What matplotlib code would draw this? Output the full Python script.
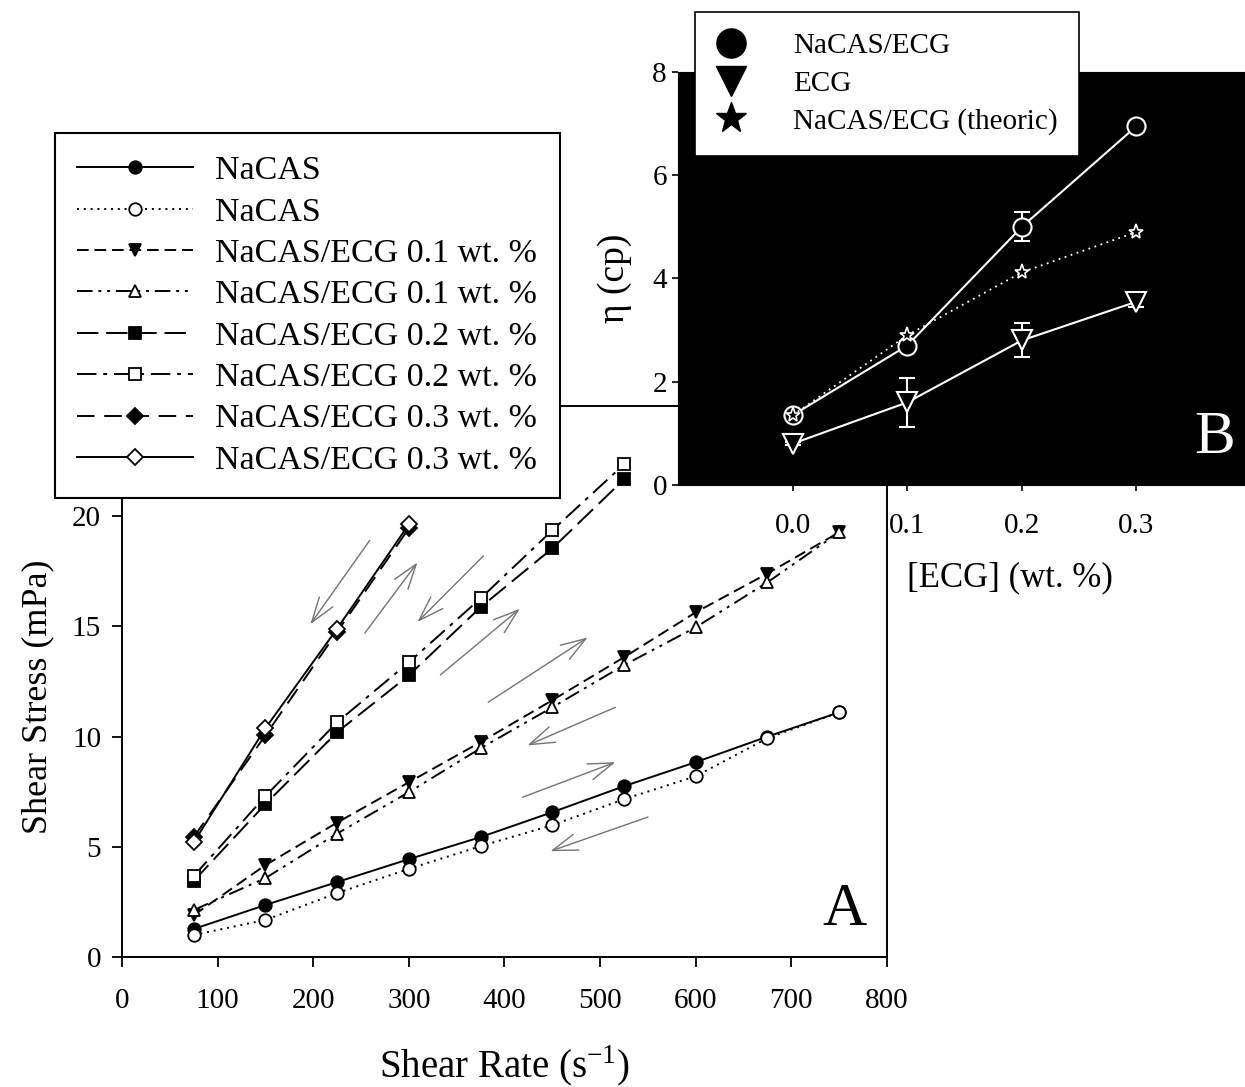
import numpy as np
import matplotlib
matplotlib.use("Agg")
import matplotlib.pyplot as plt
from matplotlib.lines import Line2D

plt.rcParams['font.family'] = ['Liberation Serif', 'DejaVu Serif']
plt.rcParams['mathtext.fontset'] = 'custom'
plt.rcParams['mathtext.rm'] = 'Liberation Serif'

# ---------- data (panel A) ----------
rate = [75, 150, 225, 300, 375, 450, 525, 600, 675, 750]
nacas_up = [1.27, 2.36, 3.4, 4.44, 5.44, 6.57, 7.75, 8.84, 10.0, 11.1]
nacas_down = [1.0, 1.68, 2.9, 4.0, 5.03, 5.98, 7.16, 8.2, 9.93, 11.1]
ecg01_up = [1.9, 4.17, 6.1, 7.93, 9.75, 11.65, 13.6, 15.64, 17.4, 19.27]
ecg01_down = [2.13, 3.58, 5.6, 7.48, 9.47, 11.33, 13.24, 14.96, 17.0, 19.27]
rate02 = [75, 150, 225, 300, 375, 450, 525]
ecg02_up = [3.45, 6.94, 10.2, 12.78, 15.87, 18.54, 21.67]
ecg02_down = [3.67, 7.3, 10.65, 13.37, 16.27, 19.36, 22.35]
rate03 = [75, 150, 225, 300]
ecg03_up = [5.44, 10.06, 14.75, 19.45]
ecg03_down = [5.2, 10.38, 14.9, 19.63]

labels_a = ["NaCAS", "NaCAS", "NaCAS/ECG 0.1 wt. %", "NaCAS/ECG 0.1 wt. %",
            "NaCAS/ECG 0.2 wt. %", "NaCAS/ECG 0.2 wt. %",
            "NaCAS/ECG 0.3 wt. %", "NaCAS/ECG 0.3 wt. %"]

# direction arrows (start -> end, data units)
arrows = [((259, 18.9), (197, 15.1)), ((254, 14.7), (309, 17.9)),
          ((378, 18.2), (309, 15.2)), ((333, 12.8), (416, 15.8)),
          ((383, 11.56), (487, 14.5)), ((516, 11.33), (424, 9.6)),
          ((419, 7.25), (516, 8.84)), ((550, 6.35), (448, 4.8))]

# ---------- data (panel B) ----------
ecg_conc = [0.0, 0.1, 0.2, 0.3]
visc_mix = [1.35, 2.7, 5.0, 6.95]
visc_mix_err = [0.05, 0.08, 0.28, 0.05]
visc_ecg = [0.8, 1.6, 2.8, 3.55]
visc_ecg_err = [0.03, 0.47, 0.33, 0.1]
visc_theor = [1.35, 2.9, 4.12, 4.9]

W, H = 1245, 1087
fig = plt.figure(figsize=(W / 100, H / 100), dpi=100)

# ---------- panel A ----------
ax = fig.add_axes([122 / W, 1 - 957 / H, 765 / W, 551 / H])
lw = 1.4
ms = 9
series = [
    (rate, nacas_up, '-', 'o', 'black'),
    (rate, nacas_down, (0, (1, 2.5)), 'o', 'white'),
    (rate, ecg01_up, (0, (6, 3)), 'v', 'black'),
    (rate, ecg01_down, (0, (8, 3, 1.5, 3, 1.5, 3)), '^', 'white'),
    (rate02, ecg02_up, (0, (11, 4)), 's', 'black'),
    (rate02, ecg02_down, (0, (10, 3.5, 2, 3.5)), 's', 'white'),
    (rate03, ecg03_up, (0, (9, 5)), 'D', 'black'),
    (rate03, ecg03_down, '-', 'D', 'white'),
]
for (xs, ys, ls, mk, fc), lab in zip(series, labels_a):
    ax.plot(xs, ys, linestyle=ls, color='black', lw=lw, marker=mk,
            markersize=ms if mk != 'D' else 8, markerfacecolor=fc,
            markeredgecolor='black', markeredgewidth=1.3, label=lab)

for start, end in arrows:
    ax.annotate('', xy=end, xytext=start,
                arrowprops=dict(arrowstyle='->,head_length=0.9,head_width=0.3',
                                color='0.45', lw=1.0, mutation_scale=20,
                                shrinkA=0, shrinkB=0))

ax.set_xlim(0, 800)
ax.set_ylim(0, 25)
ax.set_xticks(np.arange(0, 801, 100))
ax.set_yticks(np.arange(0, 21, 5))
ax.tick_params(direction='out', length=7, width=1.3, labelsize=21)
ax.tick_params(axis='x', pad=15)
ax.tick_params(axis='y', pad=8)
for s in ax.spines.values():
    s.set_linewidth(1.4)
ax.set_xlabel(r"Shear Rate (s$^{\mathregular{-1}}$)", fontsize=28)
ax.xaxis.set_label_coords(0.5, -0.158)
ax.set_ylabel("Shear Stress (mPa)", fontsize=26)
ax.yaxis.set_label_coords(-0.088, 0.472)
ax.text(0.945, 0.085, "A", transform=ax.transAxes, fontsize=44,
        ha='center', va='center')

leg = ax.legend(loc='upper left', bbox_to_anchor=(55 / W, 1 - 133 / H),
                bbox_transform=fig.transFigure, fontsize=24.5, numpoints=1,
                handlelength=3.4, handletextpad=0.65, labelspacing=0.31,
                borderpad=0.66, borderaxespad=0, fancybox=False,
                framealpha=1, edgecolor='black')
leg.get_frame().set_linewidth(1.5)

# ---------- panel B (inset) ----------
axb = fig.add_axes([678 / W, 1 - 485 / H, 573 / W, 413 / H])
axb.set_facecolor('black')
axb.errorbar(ecg_conc, visc_mix, yerr=visc_mix_err, color='white', lw=1.5,
             marker='o', markersize=13, markerfacecolor='black',
             markeredgecolor='white', markeredgewidth=1.5, capsize=6,
             elinewidth=1.5, zorder=3)
axb.errorbar(ecg_conc, visc_ecg, yerr=visc_ecg_err, color='white', lw=1.5,
             marker='v', markersize=14, markerfacecolor='black',
             markeredgecolor='white', markeredgewidth=1.5, capsize=6,
             elinewidth=1.5, zorder=3)
axb.plot(ecg_conc, visc_theor, linestyle=(0, (1, 2.5)), color='white', lw=1.3,
         marker='*', markersize=11, markerfacecolor='black',
         markeredgecolor='white', markeredgewidth=1.2, zorder=4)
axb.set_xlim(-0.1, 0.4)
axb.set_ylim(0, 8)
axb.set_xticks(ecg_conc)
axb.set_xticklabels(["0.0", "0.1", "0.2", "0.3"])
axb.set_yticks([0, 2, 4, 6, 8])
axb.tick_params(direction='out', length=4, width=1.2, labelsize=21)
axb.tick_params(axis='x', pad=16)
axb.tick_params(axis='y', pad=4)
axb.set_xlabel("[ECG] (wt. %)", fontsize=25)
axb.xaxis.set_label_coords(0.579, -0.185)
axb.set_ylabel("η (cp)", fontsize=27)
axb.yaxis.set_label_coords(-0.08, 0.5)
axb.text(0.937, 0.114, "B", transform=axb.transAxes, fontsize=44,
         color='white', ha='center', va='center')

handles_b = [Line2D([], [], ls='none', marker='o', color='black', markersize=21),
             Line2D([], [], ls='none', marker='v', color='black', markersize=21),
             Line2D([], [], ls='none', marker='*', color='black', markersize=23)]
legb = axb.legend(handles_b, ["NaCAS/ECG", "ECG", "NaCAS/ECG (theoric)"],
                  loc='upper left', bbox_to_anchor=(695 / W, 1 - 12 / H),
                  bbox_transform=fig.transFigure, fontsize=21, numpoints=1,
                  handlelength=1.0, handletextpad=1.65, labelspacing=0.38,
                  borderpad=0.72, borderaxespad=0, fancybox=False,
                  framealpha=1, edgecolor='black')
legb.get_frame().set_linewidth(1.2)

fig.savefig("out.png", dpi=100, facecolor='white')
